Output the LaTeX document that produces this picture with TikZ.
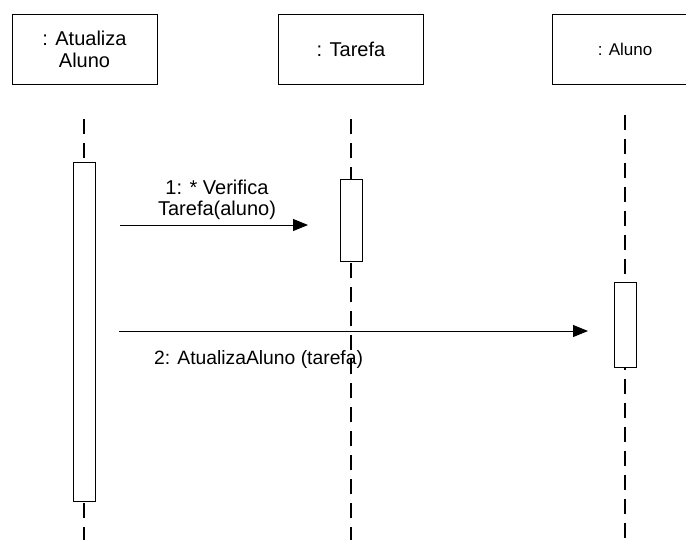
\documentclass[tikz,border=0pt]{standalone}
\usepackage{fontspec}
\setmainfont{Liberation Sans}
\usetikzlibrary{arrows.meta}
\begin{document}
\begin{tikzpicture}[x=1pt,y=-1pt,
  obj/.style={draw=black,line width=0.9pt,minimum width=145pt,minimum height=70pt,inner sep=0pt,align=center,font=\fontsize{20}{23}\selectfont},
  act/.style={draw=black,fill=white,line width=0.9pt,minimum width=22pt,inner sep=0pt},
  life/.style={line width=1.6pt,dash pattern=on 15pt off 9pt},
  msg/.style={line width=0.9pt,-{Triangle[length=15pt,width=12pt]}},
  lbl/.style={font=\fontsize{20}{21}\selectfont,align=center,inner sep=0pt}]
\useasboundingbox (0,0) rectangle (686,539);
\clip (0,0) rectangle (686,539);
\fill[white] (0,0) rectangle (686,539);
% objects
\node[obj] (a) at (84.5,49) {: Atualiza\\[-1pt]Aluno};
\node[obj] (t) at (351,49) {: Tarefa};
\node[obj,font=\fontsize{17}{20}\selectfont] (al) at (625,49) {: Aluno};
% lifeline ends
\coordinate (a1) at (84,119);  \coordinate (a2) at (84,545);
\coordinate (t1) at (351,119); \coordinate (t2) at (351,545);
\coordinate (l1) at (625,115); \coordinate (l2) at (625,545);
\draw[life] (a1) -- (a2);
\draw[life] (t1) -- (t2);
\draw[life] (l1) -- (l2);
% activations
\node[act,minimum height=339pt] (act1) at (84,331.5) {};
\node[act,minimum height=82pt] (act2) at (351,220) {};
\node[act,minimum height=85pt] (act3) at (625,324.5) {};
% messages
\coordinate (m1s) at (120,225); \coordinate (m1e) at (308,225);
\draw[msg] (m1s) -- (m1e);
\node[lbl,anchor=south] (l1t) at (217,220) {1: * Verifica\\Tarefa(aluno)};
\coordinate (m2s) at (119,331); \coordinate (m2e) at (588,331);
\draw[msg] (m2s) -- (m2e);
\node[lbl,font=\fontsize{19.3}{21}\selectfont,anchor=base west] (l2t) at (154,364) {2: AtualizaAluno (tarefa)};
\end{tikzpicture}
\end{document}
